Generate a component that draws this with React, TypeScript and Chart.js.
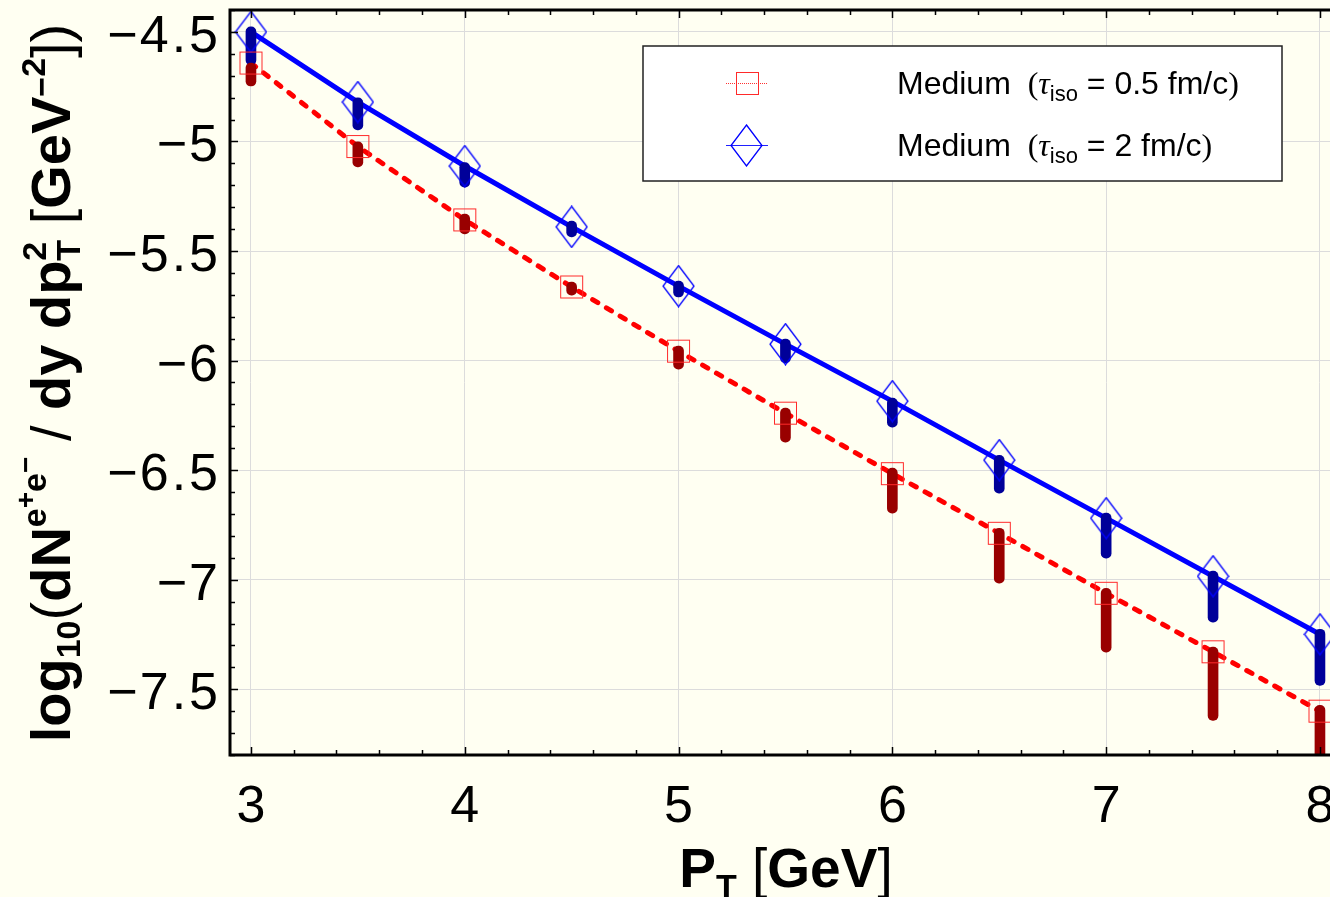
import React, { useEffect, useRef } from 'react';
import { Chart, registerables } from 'chart.js';

Chart.register(...registerables);

// ---- data ----
const ptValues = [3, 3.5, 4, 4.5, 5, 5.5, 6, 6.5, 7, 7.5, 8];
const medium05 = [-4.642, -5.023, -5.358, -5.664, -5.957, -6.24, -6.516, -6.788, -7.062, -7.329, -7.6];
const medium2 = [-4.5, -4.82, -5.112, -5.39, -5.66, -5.925, -6.185, -6.454, -6.719, -6.984, -7.249];
const band05High = [-4.642, -5.002, -5.331, -5.642, -5.934, -6.217, -6.491, -6.765, -7.039, -7.308, -7.573];
const band05Low = [-4.747, -5.116, -5.422, -5.701, -6.039, -6.372, -6.696, -7.016, -7.331, -7.642, -7.95];
const band2High = [-4.477, -4.801, -5.096, -5.363, -5.637, -5.902, -6.171, -6.432, -6.696, -6.961, -7.226];
const band2Low = [-4.651, -4.947, -5.208, -5.436, -5.71, -6.011, -6.304, -6.605, -6.902, -7.194, -7.482];
const xTickLabels = [3, 4, 5, 6, 7, 8];
const yTickLabels = [-4.5, -5, -5.5, -6, -6.5, -7, -7.5];

const X_MIN = 2.902;
const X_MAX = 8.047;
const Y_MIN = -7.8;
const Y_MAX = -4.4;

const BG = '#fffff2';
const SANS = '"Liberation Sans", Arial, sans-serif';

function makeSquare(): HTMLCanvasElement {
  const c = document.createElement('canvas');
  c.width = 25; c.height = 25;
  const g = c.getContext('2d')!;
  g.strokeStyle = '#ff2a2a';
  g.lineWidth = 1;
  g.strokeRect(1.5, 1.5, 22, 22);
  return c;
}
function makeDiamond(): HTMLCanvasElement {
  const c = document.createElement('canvas');
  c.width = 33; c.height = 43;
  const g = c.getContext('2d')!;
  g.strokeStyle = '#0000ff';
  g.lineWidth = 1.3;
  g.beginPath();
  g.moveTo(16.5, 1); g.lineTo(32, 21.5); g.lineTo(16.5, 42); g.lineTo(1, 21.5); g.closePath();
  g.stroke();
  return c;
}

type Seg = { t: string; font: string; dy?: number; stackNext?: boolean };

function segWidth(ctx: CanvasRenderingContext2D, s: Seg) {
  ctx.font = s.font;
  return ctx.measureText(s.t).width;
}
function totalWidth(ctx: CanvasRenderingContext2D, segs: Seg[]) {
  let w = 0;
  for (let i = 0; i < segs.length; i++) {
    const s = segs[i];
    if (s.stackNext) {
      const a = segWidth(ctx, s);
      const b = segWidth(ctx, segs[i + 1]);
      w += Math.max(a, b);
      i++;
    } else w += segWidth(ctx, s);
  }
  return w;
}
function drawSegs(ctx: CanvasRenderingContext2D, segs: Seg[], x0: number, y0: number) {
  let x = x0;
  ctx.textBaseline = 'alphabetic';
  ctx.textAlign = 'left';
  for (let i = 0; i < segs.length; i++) {
    const s = segs[i];
    if (s.stackNext) {
      const n = segs[i + 1];
      ctx.font = s.font; ctx.fillText(s.t, x, y0 + (s.dy || 0));
      const a = ctx.measureText(s.t).width;
      ctx.font = n.font; ctx.fillText(n.t, x, y0 + (n.dy || 0));
      const b = ctx.measureText(n.t).width;
      x += Math.max(a, b);
      i++;
    } else {
      ctx.font = s.font;
      ctx.fillText(s.t, x, y0 + (s.dy || 0));
      x += ctx.measureText(s.t).width;
    }
  }
}

export default function App() {
  const ref = useRef<HTMLCanvasElement>(null);
  useEffect(() => {
    const canvas = ref.current!;
    const square = makeSquare();
    const diamond = makeDiamond();

    const decor = {
      id: 'decor',
      beforeDraw(chart: any) {
        const ctx = chart.ctx;
        ctx.save();
        ctx.fillStyle = BG;
        ctx.fillRect(0, 0, chart.width, chart.height);
        ctx.restore();
      },
      afterDraw(chart: any) {
        const ctx: CanvasRenderingContext2D = chart.ctx;
        const xs = chart.scales.x;
        const ys = chart.scales.y;
        const a = chart.chartArea;
        ctx.save();
        // frame
        ctx.strokeStyle = '#000';
        ctx.lineWidth = 3;
        ctx.beginPath();
        ctx.moveTo(a.right + 5, a.top);
        ctx.lineTo(a.left, a.top);
        ctx.lineTo(a.left, a.bottom);
        ctx.lineTo(a.right + 5, a.bottom);
        ctx.stroke();
        // tick marks
        ctx.lineWidth = 1.5;
        ctx.beginPath();
        for (let k = 15; k <= 40; k++) {
          const v = k / 5;
          const px = Math.round(xs.getPixelForValue(v)) + 0.5;
          const major = k % 5 === 0;
          const len = major ? 8 : 5;
          ctx.moveTo(px, a.bottom); ctx.lineTo(px, a.bottom - len);
          ctx.moveTo(px, a.top); ctx.lineTo(px, a.top + len);
        }
        for (let k = 44; k <= 78; k++) {
          const v = -k / 10;
          const py = Math.round(ys.getPixelForValue(v)) + 0.5;
          const major = k % 5 === 0;
          const len = major ? 8 : 5;
          ctx.moveTo(a.left, py); ctx.lineTo(a.left + len, py);
        }
        ctx.stroke();
        // tick labels
        ctx.fillStyle = '#000';
        ctx.font = `52px ${SANS}`;
        ctx.textAlign = 'center';
        ctx.textBaseline = 'alphabetic';
        xTickLabels.forEach((v) => {
          ctx.fillText(String(v), xs.getPixelForValue(v), 822);
        });
        yTickLabels.forEach((v) => {
          const num = String(Math.abs(v));
          const py = ys.getPixelForValue(v) + 20;
          (ctx as any).letterSpacing = '3px';
          ctx.textAlign = 'right';
          ctx.fillText(num, 221, py);
          const w = ctx.measureText(num).width;
          (ctx as any).letterSpacing = '0px';
          ctx.fillText('\u2212', 221 - w - 2, py);
        });
        // axis titles
        const F = 56;
        const B = `bold ${F}px ${SANS}`;
        const R = `${F}px ${SANS}`;
        const Bs = `bold ${Math.round(F * 0.6)}px ${SANS}`;
        const Bss = `bold ${Math.round(F * 0.5)}px ${SANS}`;
        const FX = 55;
        const xt: Seg[] = [
          { t: 'P', font: `bold ${FX}px ${SANS}` },
          { t: 'T', font: `bold ${Math.round(FX * 0.62)}px ${SANS}`, dy: FX * 0.2 },
          { t: ' [', font: `${FX}px ${SANS}` },
          { t: 'GeV', font: `bold ${FX}px ${SANS}` },
          { t: ']', font: `${FX}px ${SANS}` },
        ];
        const xw = totalWidth(ctx, xt);
        drawSegs(ctx, xt, 786 - xw / 2, 887);

        const yt: Seg[] = [
          { t: 'log', font: B },
          { t: '10', font: Bs, dy: F * 0.18 },
          { t: '(', font: R },
          { t: 'dN', font: B },
          { t: 'e', font: Bs, dy: -F * 0.42 },
          { t: '+', font: Bss, dy: -F * 0.62 },
          { t: 'e', font: Bs, dy: -F * 0.42 },
          { t: '\u2212', font: Bss, dy: -F * 0.62 },
          { t: ' / ', font: R },
          { t: 'dy dp', font: B },
          { t: '2', font: Bs, dy: -F * 0.42, stackNext: true },
          { t: 'T', font: Bs, dy: F * 0.18 },
          { t: ' [', font: R },
          { t: 'GeV', font: B },
          { t: '\u2212', font: Bs, dy: -F * 0.3 },
          { t: '2', font: Bs, dy: -F * 0.45 },
          { t: '])', font: R },
        ];
        const yw = totalWidth(ctx, yt);
        ctx.save();
        ctx.translate(70, 383);
        ctx.rotate(-Math.PI / 2);
        drawSegs(ctx, yt, -yw / 2, 0);
        ctx.restore();

        // legend
        const lx = 643, ly = 46, lw = 639, lh = 135;
        ctx.fillStyle = '#ffffff';
        ctx.fillRect(lx, ly, lw, lh);
        ctx.strokeStyle = '#222';
        ctx.lineWidth = 1.5;
        ctx.strokeRect(lx, ly, lw, lh);
        // row 1
        ctx.strokeStyle = '#ff3030';
        ctx.lineWidth = 1;
        ctx.setLineDash([1, 1]);
        ctx.beginPath(); ctx.moveTo(726, 83.5); ctx.lineTo(768, 83.5); ctx.stroke();
        ctx.setLineDash([]);
        ctx.drawImage(square, 747 - 12, 83 - 12);
        // row 2
        ctx.strokeStyle = '#2020ff';
        ctx.beginPath(); ctx.moveTo(726, 145.5); ctx.lineTo(768, 145.5); ctx.stroke();
        ctx.drawImage(diamond, 746 - 16, 145 - 21);
        ctx.fillStyle = '#000';
        const LF = 32;
        const L = `${LF}px ${SANS}`;
        const Lr = `${LF}px "Liberation Serif", serif`;
        const Lt = `italic ${LF}px "Liberation Serif", "DejaVu Serif", serif`;
        const Ls = `${Math.round(LF * 0.7)}px ${SANS}`;
        const row = (val: string, y: number) => {
          const segs: Seg[] = [
            { t: 'Medium ', font: L },
            { t: ' (', font: Lr },
            { t: '\u03c4', font: Lt },
            { t: 'iso', font: Ls, dy: LF * 0.22 },
            { t: ` = ${val} fm/c`, font: L },
            { t: ')', font: Lr },
          ];
          drawSegs(ctx, segs, 897, y);
        };
        row('0.5', 94);
        row('2', 156);
        ctx.restore();
      },
    };

    const pts = (ys: number[]) => ptValues.map((x, i) => ({ x, y: ys[i] }));
    const rng = (lo: number[], hi: number[]) => ptValues.map((x, i) => ({ x, y: [lo[i], hi[i]] }));

    const chart = new Chart(canvas, {
      type: 'line',
      data: {
        datasets: [
          {
            type: 'scatter' as any,
            label: 'Medium (τiso = 0.5 fm/c) markers',
            data: pts(medium05),
            showLine: false,
            pointStyle: square as any,
            pointRadius: 12,
            order: 0,
          } as any,
          {
            type: 'scatter' as any,
            label: 'Medium (τiso = 2 fm/c) markers',
            data: pts(medium2),
            showLine: false,
            pointStyle: diamond as any,
            pointRadius: 16,
            order: 0,
          } as any,
          {
            type: 'bar',
            label: 'range 0.5',
            data: rng(band05Low, band05High) as any,
            backgroundColor: '#990000',
            barThickness: 10,
            borderRadius: 5,
            borderSkipped: false,
            grouped: false,
            clip: 0,
            order: 1,
          } as any,
          {
            type: 'bar',
            label: 'range 2',
            data: rng(band2Low, band2High) as any,
            backgroundColor: '#000099',
            barThickness: 10,
            borderRadius: 5,
            borderSkipped: false,
            grouped: false,
            clip: 0,
            order: 1,
          } as any,
          {
            label: 'Medium (τiso = 0.5 fm/c)',
            data: pts(medium05),
            borderColor: '#ff0000',
            borderWidth: 5,
            borderDash: [6, 10],
            borderCapStyle: 'round',
            pointRadius: 0,
            tension: 0,
            fill: false,
            order: 2,
          } as any,
          {
            label: 'Medium (τiso = 2 fm/c)',
            data: pts(medium2),
            borderColor: '#0000ff',
            borderWidth: 5,
            pointRadius: 0,
            tension: 0,
            fill: false,
            order: 2,
          } as any,
        ],
      },
      options: {
        responsive: false,
        animation: false,
        devicePixelRatio: 1,
        layout: { autoPadding: false, padding: { left: 230, top: 10, right: 0, bottom: 142 } },
        plugins: { legend: { display: false }, tooltip: { enabled: false } },
        scales: {
          x: {
            type: 'linear',
            min: X_MIN,
            max: X_MAX,
            offset: false,
            afterBuildTicks: (s: any) => { s.ticks = xTickLabels.map((v) => ({ value: v })); },
            afterFit: (s: any) => { s.height = 0; },
            ticks: { display: false },
            grid: { color: '#dcdcdc', lineWidth: 1, drawTicks: false, offset: false },
            border: { display: false },
          },
          y: {
            type: 'linear',
            min: Y_MIN,
            max: Y_MAX,
            afterBuildTicks: (s: any) => { s.ticks = yTickLabels.map((v) => ({ value: v })); },
            afterFit: (s: any) => { s.width = 0; },
            ticks: { display: false },
            grid: { color: '#dcdcdc', lineWidth: 1, drawTicks: false },
            border: { display: false },
          },
        },
      } as any,
      plugins: [decor],
    });
    return () => chart.destroy();
  }, []);

  return (
    <div style={{ position: 'fixed', left: 0, top: 0, width: 1330, height: 897, background: BG, overflow: 'hidden' }}>
      <canvas ref={ref} width={1330} height={897} style={{ display: 'block', width: 1330, height: 897 }} />
    </div>
  );
}
